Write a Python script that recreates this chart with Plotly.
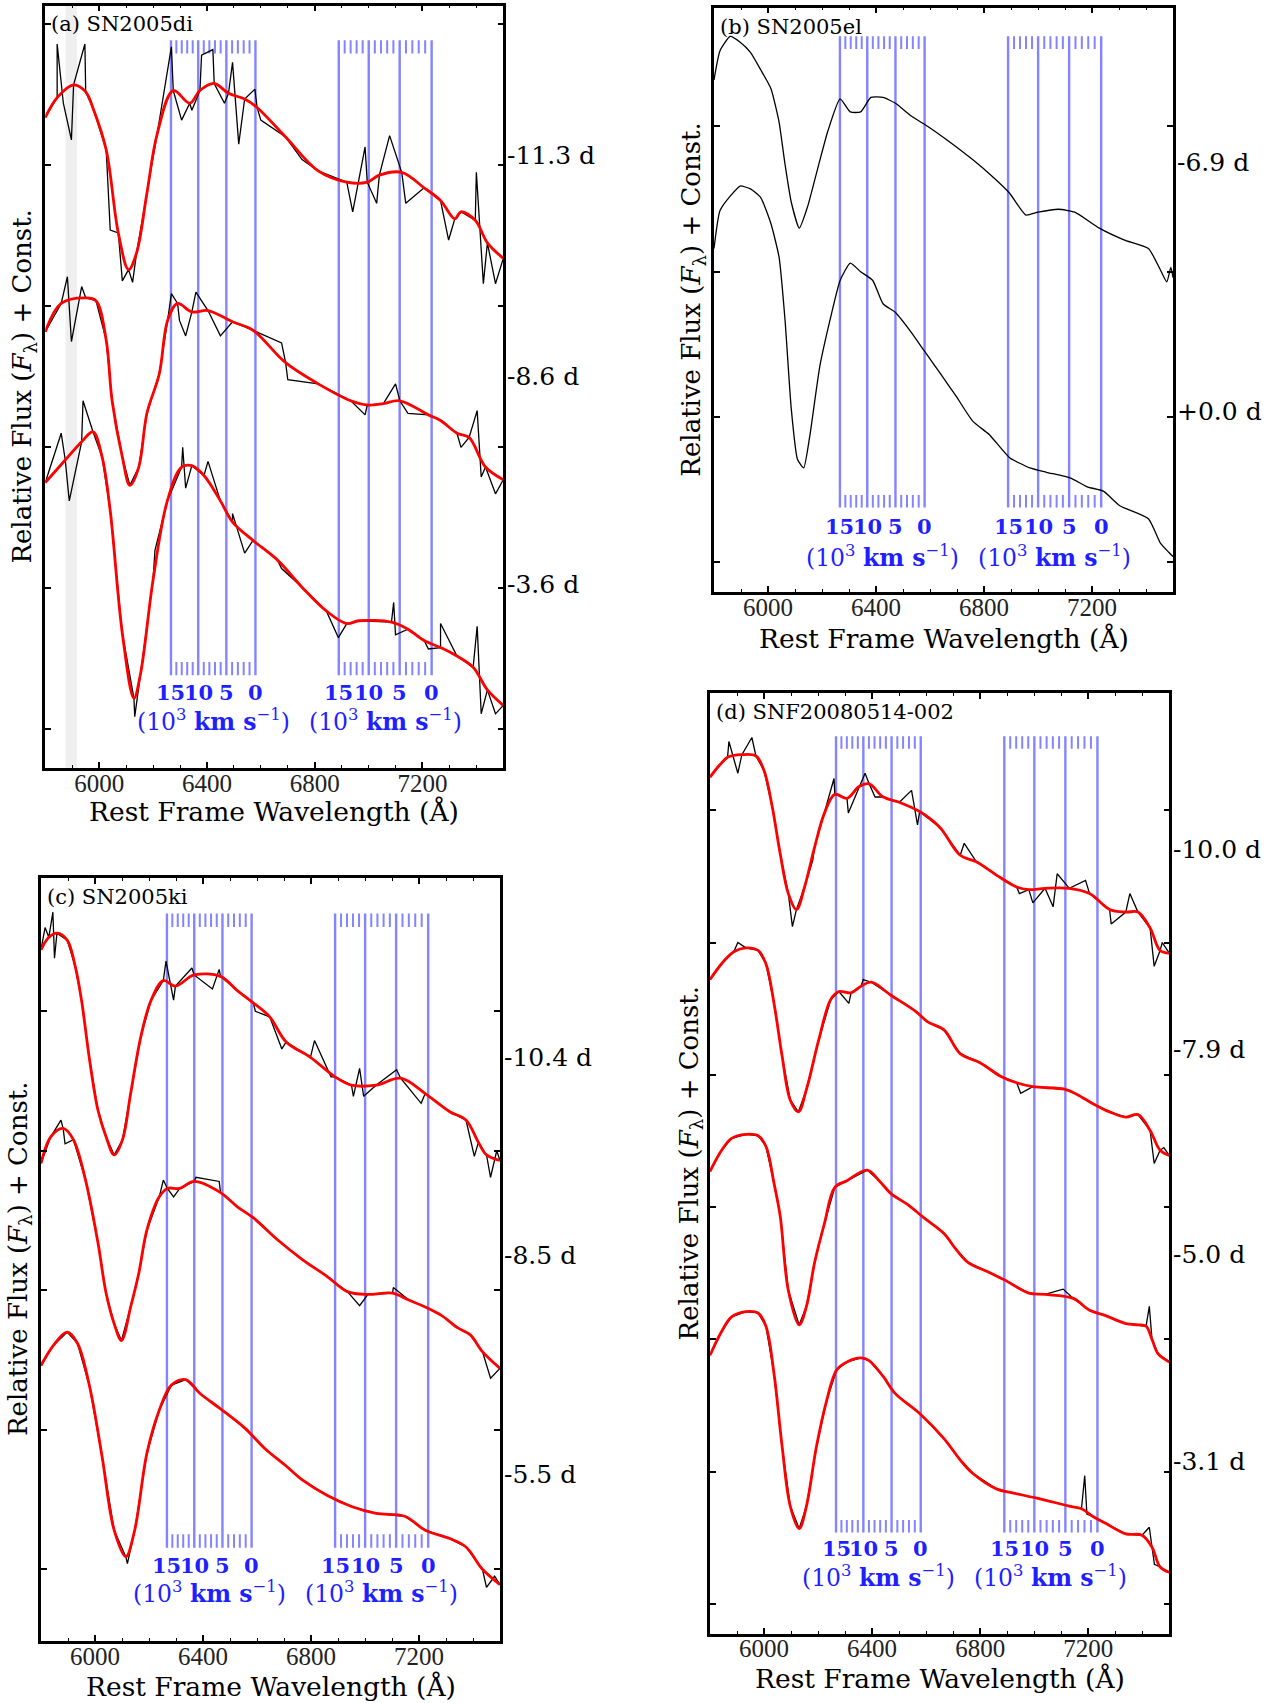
import plotly.graph_objects as go

W, H = 1275, 1703

# ---------------- data ----------------
# Panel (a) SN2005di
a1_wl = [5800,5844,5905,5950,5980,6026,6071,6109,6139,6177,6215,6275,6336,6374,6427,6480,6540,6586,6692,6813,6919,6995,7040,7123,7206,7267,7320,7343,7396,7441,7500]
a1_fl = [4.34,4.48,4.57,4.52,4.39,4.11,3.52,3.26,3.38,3.80,4.22,4.53,4.44,4.53,4.58,4.51,4.47,4.41,4.20,3.96,3.88,3.88,3.93,3.95,3.84,3.75,3.62,3.67,3.61,3.45,3.34]
a1_sp_wl = [5844,5867,5897,5947,6041,6086,6124,6268,6306,6344,6380,6422,6465,6495,6518,6578,6600,6753,6941,6987,7030,7078,7138,7297,7400,7426,7471]
a1_sp_fl = [4.86,4.44,4.18,4.86,3.54,3.18,3.17,4.84,4.32,4.39,4.78,4.82,4.44,4.73,4.15,4.54,4.32,4.04,3.67,4.13,3.73,4.21,3.73,3.47,3.95,3.16,3.16]

a2_wl = [5800,5859,5950,5988,6026,6048,6086,6114,6147,6177,6223,6254,6291,6344,6404,6495,6571,6692,6813,6934,6995,7055,7116,7222,7267,7328,7373,7434,7500]
a2_fl = [2.82,3.02,3.06,3.04,2.76,2.33,1.93,1.73,1.86,2.24,2.52,2.90,3.02,2.96,2.97,2.89,2.83,2.60,2.45,2.33,2.30,2.31,2.33,2.23,2.19,2.10,2.07,1.86,1.77]
a2_sp_wl = [5882,5897,5935,6268,6298,6321,6359,6450,6677,6700,6987,7100,7146,7343,7403,7418,7471]
a2_sp_fl = [3.21,2.75,3.14,3.09,2.90,2.79,3.10,2.79,2.74,2.48,2.23,2.45,2.24,2.00,2.26,1.79,1.67]

a3_wl = [5800,5874,5935,5977,6011,6041,6086,6129,6154,6200,6253,6306,6344,6389,6450,6495,6571,6662,6752,6843,6919,6964,7085,7146,7206,7267,7328,7388,7441,7500]
a3_fl = [1.75,1.91,2.04,2.11,1.93,1.55,0.68,0.22,0.40,1.06,1.62,1.86,1.87,1.80,1.62,1.47,1.34,1.20,1.01,0.84,0.75,0.77,0.76,0.71,0.63,0.58,0.52,0.44,0.28,0.17]
a3_sp_wl = [5859,5889,5940,6132,6207,6310,6321,6404,6495,6540,6677,6888,7093,7100,7222,7267,7403,7418,7471]
a3_sp_fl = [2.10,1.62,2.33,0.09,1.27,2.00,1.71,1.90,1.53,1.25,1.14,0.65,0.90,0.67,0.57,0.75,0.73,0.11,0.11]

# Panel (b) SN2005el
b1_wl = [5800,5822,5860,5897,5935,5973,6011,6041,6063,6086,6116,6147,6184,6222,6267,6305,6343,6381,6426,6472,6532,6592,6668,6759,6834,6895,6955,7000,7076,7136,7227,7318,7409,7454,7477,7492,7500]
b1_fl = [3.32,3.52,3.62,3.58,3.51,3.39,3.26,3.03,2.74,2.48,2.30,2.45,2.71,2.97,3.19,3.10,3.10,3.20,3.20,3.16,3.07,3.00,2.90,2.77,2.65,2.54,2.39,2.41,2.43,2.41,2.30,2.22,2.16,2.01,1.93,2.03,1.96]
b2_wl = [5800,5822,5860,5897,5935,5973,6011,6041,6063,6086,6109,6132,6154,6192,6230,6267,6305,6343,6388,6426,6472,6532,6577,6638,6698,6759,6819,6895,6970,7031,7121,7182,7242,7303,7409,7454,7484,7500]
b2_fl = [2.16,2.42,2.52,2.59,2.57,2.51,2.33,2.10,1.67,1.06,0.71,0.65,0.86,1.35,1.67,1.94,2.06,2.00,1.94,1.78,1.72,1.58,1.46,1.30,1.14,0.97,0.88,0.72,0.65,0.62,0.58,0.52,0.49,0.39,0.30,0.13,0.07,0.04]

# Panel (c) SN2005ki
c1_wl = [5800,5829,5859,5897,5927,5950,5980,6011,6041,6071,6102,6132,6170,6208,6253,6298,6367,6465,6526,6586,6647,6708,6798,6889,6950,7041,7132,7223,7314,7374,7420,7450,7500]
c1_fl = [4.44,4.53,4.56,4.51,4.32,4.08,3.65,3.29,3.10,2.97,3.08,3.41,3.82,4.08,4.22,4.18,4.26,4.25,4.15,4.06,3.96,3.78,3.67,3.53,3.47,3.47,3.52,3.41,3.28,3.22,3.06,2.97,2.93]
c1_sp_wl = [5815,5844,5850,6263,6291,6359,6435,6460,6594,6692,6813,6874,6957,6980,6995,7117,7208,7405,7465,7488]
c1_sp_fl = [4.60,4.71,4.38,4.36,4.08,4.31,4.16,4.30,4.00,3.73,3.79,3.53,3.39,3.59,3.39,3.58,3.34,2.96,2.81,3.00]

c2_wl = [5800,5836,5882,5920,5965,6011,6041,6071,6098,6132,6162,6192,6238,6268,6314,6367,6465,6526,6586,6677,6768,6859,6935,7011,7102,7162,7223,7283,7344,7390,7435,7500]
c2_fl = [2.91,3.10,3.16,3.08,2.79,2.34,1.98,1.76,1.64,1.88,2.12,2.43,2.67,2.73,2.73,2.78,2.70,2.60,2.52,2.36,2.22,2.10,1.99,1.97,1.98,1.93,1.88,1.82,1.73,1.68,1.56,1.44]
c2_sp_wl = [5874,5889,6253,6291,6374,6460,6980,7105,7465]
c2_sp_fl = [3.22,3.05,2.79,2.67,2.81,2.78,1.89,2.02,1.37]

c3_wl = [5800,5844,5897,5935,5980,6026,6071,6114,6147,6192,6238,6283,6336,6389,6465,6556,6632,6708,6768,6859,6950,7041,7147,7223,7314,7374,7435,7500]
c3_fl = [1.46,1.60,1.70,1.62,1.31,0.81,0.28,0.09,0.28,0.83,1.14,1.32,1.36,1.26,1.15,1.01,0.86,0.74,0.64,0.53,0.45,0.40,0.38,0.28,0.22,0.16,0.00,-0.11]
c3_sp_wl = [6120,7450,7480]
c3_sp_fl = [0.04,-0.13,-0.05]

# Panel (d) SNF20080514-002
d1_wl = [5800,5835,5865,5918,5970,6000,6030,6060,6090,6120,6150,6187,6224,6262,6307,6352,6389,6441,6501,6576,6651,6726,6786,6860,6935,6980,7040,7130,7205,7279,7339,7384,7429,7466,7500]
d1_fl = [6.25,6.34,6.40,6.42,6.41,6.30,6.03,5.67,5.37,5.25,5.42,5.72,5.98,6.12,6.09,6.18,6.20,6.10,6.06,5.99,5.87,5.66,5.61,5.51,5.42,5.40,5.41,5.41,5.37,5.25,5.23,5.23,5.11,4.94,4.92]
d1_sp_wl = [5870,5903,5955,6105,6180,6259,6312,6374,6411,6546,6568,6741,6945,6995,7070,7085,7190,7285,7354,7444,7474]
d1_sp_fl = [6.52,6.28,6.55,5.12,5.62,6.24,5.98,6.28,6.10,6.15,5.89,5.75,5.37,5.30,5.27,5.52,5.47,5.14,5.37,4.82,5.00]

d2_wl = [5800,5843,5888,5933,5978,6007,6037,6067,6097,6127,6157,6202,6247,6277,6322,6359,6397,6471,6561,6606,6666,6726,6801,6875,6935,6995,7115,7160,7219,7279,7339,7384,7429,7466,7500]
d2_fl = [4.72,4.84,4.93,4.96,4.94,4.84,4.54,4.14,3.81,3.72,3.89,4.26,4.57,4.63,4.62,4.67,4.70,4.60,4.48,4.40,4.34,4.16,4.09,3.99,3.94,3.91,3.89,3.85,3.78,3.72,3.68,3.70,3.58,3.43,3.39]
d2_sp_wl = [5903,6314,6367,6950,7444,7480]
d2_sp_fl = [5.00,4.54,4.72,3.86,3.33,3.45]

d3_wl = [5800,5843,5880,5933,5978,6007,6037,6060,6090,6130,6157,6187,6224,6262,6307,6382,6426,6471,6531,6591,6666,6711,6756,6830,6890,6980,7040,7145,7205,7264,7339,7384,7414,7436,7459,7500]
d3_fl = [3.27,3.43,3.52,3.55,3.54,3.46,3.18,2.93,2.37,2.11,2.25,2.58,2.88,3.15,3.20,3.28,3.20,3.10,3.02,2.92,2.80,2.68,2.58,2.51,2.45,2.35,2.34,2.31,2.22,2.18,2.12,2.11,2.10,2.00,1.89,1.83]
d3_sp_wl = [7107,7426]
d3_sp_fl = [2.38,2.25]

d4_wl = [5800,5843,5880,5933,5978,6007,6037,6067,6097,6130,6157,6194,6232,6269,6307,6359,6389,6441,6486,6576,6666,6726,6771,6860,6920,7010,7130,7175,7219,7264,7339,7399,7436,7466,7500]
d4_fl = [1.88,2.06,2.17,2.21,2.20,2.10,1.74,1.19,0.74,0.57,0.74,1.19,1.54,1.77,1.83,1.86,1.84,1.72,1.59,1.44,1.25,1.09,0.99,0.87,0.84,0.80,0.74,0.72,0.66,0.61,0.53,0.52,0.43,0.28,0.24]
d4_sp_wl = [7187,7195,7426,7445]
d4_sp_fl = [0.97,0.68,0.58,0.30]

# phase labels
a_phase = ["-11.3 d", "-8.6 d", "-3.6 d"];  a_phase_y = [4.07, 2.50, 1.03]
b_phase = ["-6.9 d", "+0.0 d"];             b_phase_y = [2.75, 1.04]
c_phase = ["-10.4 d", "-8.5 d", "-5.5 d"];  c_phase_y = [3.67, 2.25, 0.68]
d_phase = ["-10.0 d", "-7.9 d", "-5.0 d", "-3.1 d"]; d_phase_y = [5.70, 4.19, 2.64, 1.08]

# velocity scale markers (C II lines)
rest_wl = [6580, 7234]
vel_major = [15, 10, 5, 0]        # 10^3 km/s
vel_all = list(range(0, 16))
C_KMS = 299792.458

# ---------------- layout geometry (pixels) ----------------
panels = [
    dict(key="a", title="(a) SN2005di", px=(45.3, 503.3), py=(5.5, 767.7), yr=(-0.272, 5.133),
         spectra=[(a1_wl, a1_fl, a1_sp_wl, a1_sp_fl), (a2_wl, a2_fl, a2_sp_wl, a2_sp_fl), (a3_wl, a3_fl, a3_sp_wl, a3_sp_fl)],
         red=True, phases=a_phase, phase_y=a_phase_y,
         vtop=4.887, vbot=0.383, mlen=0.095, vlab=0.26, ulab=0.064, xlab_py=812, ylab_px=24),
    dict(key="b", title="(b) SN2005el", px=(714, 1173), py=(7.6, 591.7), yr=(-0.202, 3.818),
         spectra=[(b1_wl, b1_fl, [], []), (b2_wl, b2_fl, [], [])],
         red=False, phases=b_phase, phase_y=b_phase_y,
         vtop=3.62, vbot=0.377, mlen=0.087, vlab=0.246, ulab=0.043, xlab_py=638.6, ylab_px=693),
    dict(key="c", title="(c) SN2005ki", px=(41, 500), py=(878.3, 1640.7), yr=(-0.512, 4.953),
         spectra=[(c1_wl, c1_fl, c1_sp_wl, c1_sp_fl), (c2_wl, c2_fl, c2_sp_wl, c2_sp_fl), (c3_wl, c3_fl, c3_sp_wl, c3_sp_fl)],
         red=True, phases=c_phase, phase_y=c_phase_y,
         vtop=4.70, vbot=0.155, mlen=0.096, vlab=0.03, ulab=-0.17, xlab_py=1686.7, ylab_px=19.5),
    dict(key="d", title="(d) SNF20080514-002", px=(710, 1169.3), py=(693.3, 1633.5), yr=(-0.223, 6.884),
         spectra=[(d1_wl, d1_fl, d1_sp_wl, d1_sp_fl), (d2_wl, d2_fl, d2_sp_wl, d2_sp_fl), (d3_wl, d3_fl, d3_sp_wl, d3_sp_fl), (d4_wl, d4_fl, d4_sp_wl, d4_sp_fl)],
         red=True, phases=d_phase, phase_y=d_phase_y,
         vtop=6.56, vbot=0.54, mlen=0.095, vlab=0.42, ulab=0.21, xlab_py=1678, ylab_px=690),
]

SERIF = "DejaVu Serif"
TICKFONT = "Liberation Serif"
LINE_BLUE = "rgba(110,110,255,0.85)"
TEXT_BLUE = "#1f1fff"

fig = go.Figure()
layout = dict(width=W, height=H, margin=dict(l=0, r=0, t=0, b=0),
              paper_bgcolor="white", plot_bgcolor="white", showlegend=False)
shapes, annotations = [], []

def fx(px): return px / W
def fy(py): return 1 - py / H

for i, p in enumerate(panels):
    n = "" if i == 0 else str(i + 1)
    xa, ya = "x" + n, "y" + n
    layout["xaxis" + n] = dict(
        domain=[fx(p["px"][0]), fx(p["px"][1])], anchor=ya, range=[5800, 7500],
        showline=True, linecolor="black", linewidth=2.6, mirror="ticks",
        ticks="inside", ticklen=6, tickwidth=1.6, tickcolor="black",
        tick0=6000, dtick=400, showgrid=False, zeroline=False,
        tickfont=dict(family=TICKFONT, size=25, color="#222"), ticklabelstandoff=-9,
        minor=dict(ticks="inside", ticklen=3, tickwidth=1.4, tickcolor="black", dtick=100, tick0=6000, showgrid=False),
    )
    layout["yaxis" + n] = dict(
        domain=[fy(p["py"][1]), fy(p["py"][0])], anchor=xa, range=list(p["yr"]),
        showline=True, linecolor="black", linewidth=2.6, mirror="ticks",
        ticks="inside", ticklen=6, tickwidth=1.6, tickcolor="black",
        tick0=0, dtick=1, showticklabels=False, showgrid=False, zeroline=False,
    )

    # gray band (panel a)
    if p["key"] == "a":
        shapes.append(dict(type="rect", xref=xa, yref=ya + " domain", x0=5875, x1=5918, y0=0, y1=1,
                           fillcolor="#efefef", line=dict(width=0), layer="below"))

    # velocity scale markers
    for rw in rest_wl:
        for v in vel_all:
            lam = rw / (1 + v * 1000.0 / C_KMS)
            if v in (0, 5, 10, 15):
                shapes.append(dict(type="line", xref=xa, yref=ya, x0=lam, x1=lam, y0=p["vbot"], y1=p["vtop"],
                                   line=dict(color=LINE_BLUE, width=2.4), layer="below"))
            else:
                shapes.append(dict(type="line", xref=xa, yref=ya, x0=lam, x1=lam, y0=p["vtop"] - p["mlen"], y1=p["vtop"],
                                   line=dict(color=LINE_BLUE, width=2.0), layer="below"))
                shapes.append(dict(type="line", xref=xa, yref=ya, x0=lam, x1=lam, y0=p["vbot"], y1=p["vbot"] + p["mlen"],
                                   line=dict(color=LINE_BLUE, width=2.0), layer="below"))
        for v in vel_major:
            lam = rw / (1 + v * 1000.0 / C_KMS)
            annotations.append(dict(xref=xa, yref=ya, x=lam, y=p["vlab"], text="<b>%d</b>" % v, showarrow=False,
                                    xanchor="center", yanchor="middle",
                                    font=dict(family=SERIF, size=21, color=TEXT_BLUE)))
        lam_c = 0.5 * (rw / (1 + 15000.0 / C_KMS) + rw)
        annotations.append(dict(xref=xa, yref=ya, x=lam_c, y=p["ulab"],
                                text="(10<sup>3</sup> <b>km s</b><sup>−1</sup>)", showarrow=False,
                                xanchor="center", yanchor="middle",
                                font=dict(family=SERIF, size=23.5, color=TEXT_BLUE)))

    # spectra
    for (wl, fl, swl, sfl) in p["spectra"]:
        pts = sorted(list(zip(wl, fl)) + list(zip(swl, sfl)))
        fig.add_trace(go.Scatter(x=[q[0] for q in pts], y=[q[1] for q in pts], mode="lines",
                                 line=dict(color="black", width=1.3,
                                           shape="linear" if p["red"] else "spline",
                                           smoothing=0.5),
                                 xaxis=xa, yaxis=ya, hoverinfo="skip"))
        if p["red"]:
            fig.add_trace(go.Scatter(x=wl, y=fl, mode="lines",
                                     line=dict(color="#ff0000", width=2.8, shape="spline", smoothing=1.0),
                                     xaxis=xa, yaxis=ya, hoverinfo="skip"))

    # phase labels (right side)
    for txt, yy in zip(p["phases"], p["phase_y"]):
        annotations.append(dict(xref=xa + " domain", yref=ya, x=1.004, y=yy, text=txt, showarrow=False,
                                xanchor="left", yanchor="middle",
                                font=dict(family=SERIF, size=25, color="black")))

    # panel title
    annotations.append(dict(xref="paper", yref="paper", x=fx(p["px"][0] + 4), y=fy(p["py"][0] + 19),
                            text=p["title"], showarrow=False, xanchor="left", yanchor="middle",
                            font=dict(family=SERIF, size=21, color="black")))
    # x-axis title
    annotations.append(dict(xref="paper", yref="paper", x=fx(0.5 * (p["px"][0] + p["px"][1])), y=fy(p["xlab_py"]),
                            text="Rest Frame Wavelength (Å)", showarrow=False, xanchor="center", yanchor="middle",
                            font=dict(family=SERIF, size=26.5, color="black")))
    # y-axis title
    annotations.append(dict(xref="paper", yref="paper", x=fx(p["ylab_px"]), y=fy(0.5 * (p["py"][0] + p["py"][1])),
                            text="Relative Flux (<i>F</i><sub>λ</sub>) + Const.", showarrow=False, textangle=-90,
                            xanchor="center", yanchor="middle",
                            font=dict(family=SERIF, size=26, color="black")))

layout["shapes"] = shapes
layout["annotations"] = annotations
fig.update_layout(**layout)
fig.write_html("out.html")
